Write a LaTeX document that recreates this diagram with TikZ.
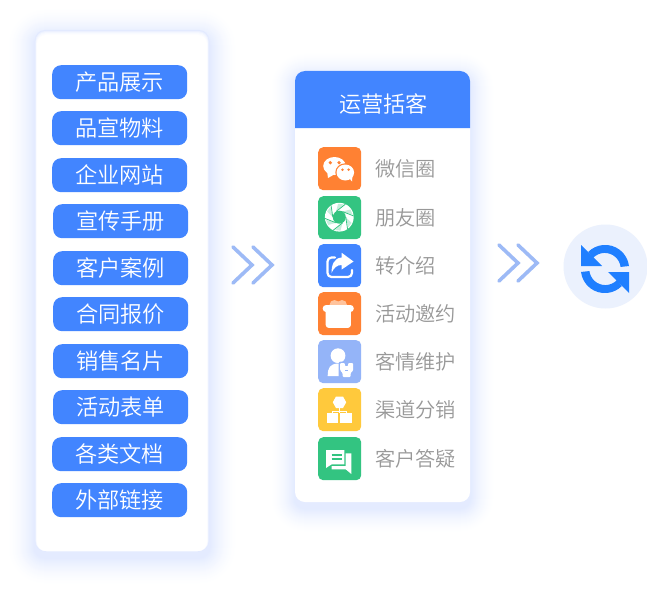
\documentclass[tikz,border=0pt]{standalone}
\usepackage{fontspec}
\setmainfont{Noto Sans CJK SC}[UprightFont=* DemiLight]
\definecolor{brand}{HTML}{4285FF}
\definecolor{syncblue}{HTML}{1F7FFF}
\definecolor{chev}{HTML}{9DBAF6}
\definecolor{halo}{HTML}{E2EAFF}
\definecolor{labelgray}{HTML}{989898}
\definecolor{iorange}{HTML}{FF8133}
\definecolor{igreen}{HTML}{33C481}
\definecolor{isky}{HTML}{94B4F8}
\definecolor{iyellow}{HTML}{FFC93C}
\definecolor{circbg}{HTML}{EBF1FD}
\definecolor{bow}{HTML}{FFC39C}
\definecolor{paleg}{HTML}{C6EEDC}
\tikzset{
  pill/.style={fill=brand,rounded corners=9pt,minimum width=135pt,minimum height=34pt,inner sep=0pt,text=white,font=\fontsize{22.2pt}{24pt}\selectfont,anchor=north west,text depth=0pt,text height=17.5pt},
  iconbox/.style={fill=#1,rounded corners=5pt,minimum width=43pt,minimum height=43pt,inner sep=0pt,anchor=north west},
  itemlabel/.style={text=labelgray,font=\fontsize{20.2pt}{22pt}\selectfont,anchor=west,inner sep=0pt},
  chevron/.style={draw=chev,line width=3.6pt,line cap=round,line join=miter},
  glyph/.style={fill=white,draw=none}
}
% x1 y1 x2 y2 spread yoffset
\newcommand{\halocard}[6]{%
  \foreach \k in {#5,...,1}{
    \pgfmathsetmacro{\tnt}{100*(1-\k/(#5+1))^1.6}
    \fill[halo!\tnt!white,rounded corners={10pt+\k*1pt}]
      ({#1-\k},{#2-\k+#6}) rectangle ({#3+\k},{#4+\k+#6});
  }
}
\begin{document}
\begin{tikzpicture}[x=1pt,y=-1pt]
\useasboundingbox (0,0) rectangle (647,591);
\fill[white] (0,0) rectangle (647,591);
% left card
\halocard{35}{30}{209}{551}{27}{6}
\foreach \k/\t in {0/100,1/65,2/40,3/20,4/8}{
  \fill[halo!\t!white,rounded corners=10pt] ({35+\k*0.4},{30+\k}) rectangle ({209-\k*0.4},551);
}
\fill[white,rounded corners=9pt] (37,35) rectangle (207,551);
\node[pill] (p1) at (52,65) {产品展示};
\node[pill] (p2) at (52,111) {品宣物料};
\node[pill] (p3) at (52,158) {企业网站};
\node[pill] (p4) at (53,204) {宣传手册};
\node[pill] (p5) at (53,251) {客户案例};
\node[pill] (p6) at (53,297) {合同报价};
\node[pill] (p7) at (53,344) {销售名片};
\node[pill] (p8) at (53,390) {活动表单};
\node[pill] (p9) at (52,437) {各类文档};
\node[pill] (p10) at (52,483) {外部链接};
% right card
\halocard{295}{71}{470}{502}{24}{6}
\fill[white,rounded corners=10pt] (295,71) rectangle (470,502);
\fill[brand] (295,128) [rounded corners=10pt] -- (295,71) -- (470,71) [sharp corners] -- (470,128) -- cycle;
\node[text=white,font=\fontsize{22.2pt}{24pt}\selectfont,inner sep=0pt] (title) at (383.5,103.5) {运营括客};
% chevrons 1
\draw[chevron] (233,247) -- (252,265) -- (233,283);
\draw[chevron] (253,247) -- (272,265) -- (253,283);
% icons
\node[iconbox=iorange] (i1) at (318,147) {};
\node[iconbox=igreen] (i2) at (318,196) {};
\node[iconbox=brand] (i3) at (318,244) {};
\node[iconbox=iorange] (i4) at (318,292) {};
\node[iconbox=isky] (i5) at (318,340) {};
\node[iconbox=iyellow] (i6) at (318,388) {};
\node[iconbox=igreen] (i7) at (318,437) {};
\node[itemlabel] (l1) at (375,168.5) {微信圈};
\node[itemlabel] (l2) at (375,217.5) {朋友圈};
\node[itemlabel] (l3) at (375,265.5) {转介绍};
\node[itemlabel] (l4) at (375,313.5) {活动邀约};
\node[itemlabel] (l5) at (375,361.5) {客情维护};
\node[itemlabel] (l6) at (375,409.5) {渠道分销};
\node[itemlabel] (l7) at (375,458.5) {客户答疑};
% wechat
\begin{scope}[shift={(318,147)}]
\fill[glyph] (16.5,19) ellipse[x radius=11.3,y radius=9];
\fill[glyph] (9,24) -- (10,31) -- (17,27) -- cycle;
\fill[iorange] (27.3,25.5) ellipse[x radius=10,y radius=9.2];
\fill[glyph] (27.3,25.5) ellipse[x radius=8.8,y radius=8];
\fill[glyph] (31,31) -- (34,34.5) -- (34.5,28) -- cycle;
\fill[iorange] (12.3,15.7) circle[radius=1.8] (21,15.7) circle[radius=1.8] (24.5,22.7) circle[radius=1.4] (30.6,22.7) circle[radius=1.4];
\end{scope}
% aperture
\begin{scope}[shift={(318,196)}]
\fill[glyph] (21.3,21.2) circle[radius=14.4];
\foreach \a in {0,60,...,300}{
  \fill[paleg] ({21.3+6.5*cos(\a)},{21.2+6.5*sin(\a)}) -- ({21.3+13.5*cos(\a+48)},{21.2+13.5*sin(\a+48)}) -- ({21.3+13.5*cos(\a+25)},{21.2+13.5*sin(\a+25)}) -- cycle;
  \draw[igreen,line width=0.8pt] ({21.3+6.5*cos(\a)},{21.2+6.5*sin(\a)}) -- ({21.3+14.4*cos(\a+55)},{21.2+14.4*sin(\a+55)});
}
\fill[igreen] (21.3,21.2) circle[radius=6.5];
\end{scope}
% share
\begin{scope}[shift={(318,244)}]
\draw[white,line width=2.2pt,line cap=round,rounded corners=4pt] (17,13.5) -- (9.5,13.5) -- (9.5,33) -- (34,33) -- (34,26);
\fill[glyph] (35.5,17.5) -- (23.7,8.8) -- (23.7,13.5) .. controls (16,14) and (13.5,21) .. (13.5,29) .. controls (16,23.5) and (19,21) .. (23.7,21) -- (23.7,25.5) -- cycle;
\end{scope}
% gift
\begin{scope}[shift={(318,292)}]
\fill[bow] (16.5,13) circle[radius=5] (24,13) circle[radius=5];
\fill[glyph,rounded corners=3.4pt] (4.7,13) rectangle (35.8,20);
\fill[glyph,rounded corners=3pt] (7.7,16) rectangle (32.9,35.9);
\end{scope}
% person
\begin{scope}[shift={(318,340)}]
\fill[glyph] (20,15.7) circle[radius=7.4];
\fill[glyph] (9.7,36) .. controls (9.7,27.5) and (12,24) .. (20,23.5) .. controls (23,23.5) and (25,24.5) .. (27,26) -- (27,36) -- cycle;
\fill[isky,rounded corners=2pt] (20.6,21.6) rectangle (36.8,38);
\fill[glyph,rounded corners=1pt] (22.2,23) -- (26.8,23) -- (26.8,26.2) -- (30.2,26.2) -- (30.2,23) -- (35.2,23) -- (35.2,30.5) -- (32.6,33) -- (32.6,37) -- (24.6,37) -- (24.6,33) -- (22.2,30.5) -- cycle;
\draw[isky,line width=0.9pt] (27,30.5) -- (30.4,30.5);
\end{scope}
% hierarchy
\begin{scope}[shift={(318,388)}]
\fill[glyph] (14.8,14.3) -- (18,8.5) -- (25,8.5) -- (28.2,14.3) -- (25,20) -- (18,20) -- cycle;
\draw[white,line width=1pt] (21.5,20) -- (21.5,25.3) (14.7,25.3) -- (14.7,23) -- (28,23) -- (28,25.3);
\fill[glyph] (8.7,25.3) rectangle (20.3,35.3);
\fill[glyph] (22,25.3) rectangle (34.3,35.3);
\end{scope}
% chat
\begin{scope}[shift={(318,437)}]
\fill[glyph] (8,13) -- (26.3,13) -- (26.3,27.3) -- (13.7,27.3) -- (8,31) -- cycle;
\draw[igreen,line width=1.4pt] (13.7,18) -- (23.7,18) (13.7,22) -- (23.7,22);
\fill[glyph] (27.7,16.3) -- (33.3,16.3) -- (33.3,37) -- (27.7,32.3) -- (13.7,32.3) -- (13.7,29) -- (27.7,29) -- cycle;
\end{scope}
% chevrons 2
\draw[chevron] (499,245) -- (518,263) -- (499,281);
\draw[chevron] (518,245) -- (537,263) -- (518,281);
% sync
\node[circle,fill=circbg,minimum size=84pt,inner sep=0pt] (sync) at (605.5,266.5) {};
\begin{scope}[shift={(605,269)}]
\foreach \r in {0,180}{
  \begin{scope}[rotate=\r]
  \fill[syncblue] (24,-3) arc[start angle=-7,end angle=-135,radius=24] -- (-12,-11) arc[start angle=-137,end angle=-7,radius=16] -- cycle;
  \fill[syncblue] (-24,-24) -- (-24,-3) -- (-3,-3) -- cycle;
  \end{scope}
}
\end{scope}
\end{tikzpicture}
\end{document}
